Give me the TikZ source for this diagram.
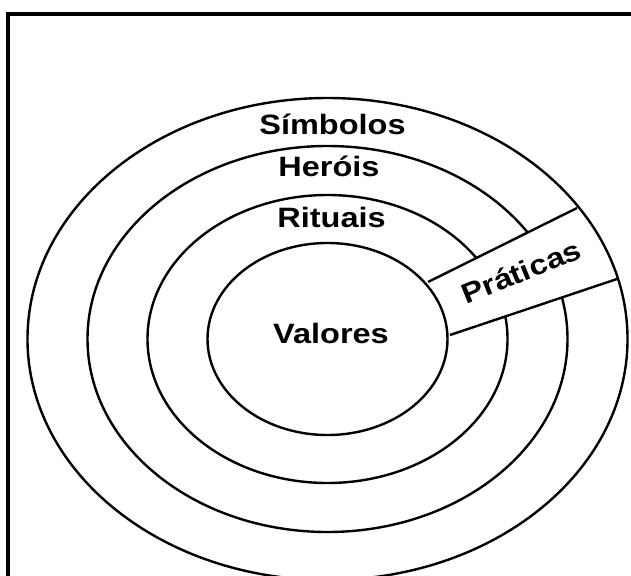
\documentclass[tikz,border=0pt]{standalone}
\usepackage{fontspec}
\newfontfamily\ringfont[FakeStretch=1.16]{Liberation Sans}
\tikzset{
  ring/.style={line width=1.8pt},
  frameline/.style={line width=2.4pt},
  ringlabel/.style={font=\ringfont\bfseries\fontsize{21}{24}\selectfont, inner sep=0pt, anchor=base}
}
\begin{document}
\begin{tikzpicture}[x=0.75pt,y=-0.75pt]
  \useasboundingbox (0,0) rectangle (631,575);
  \clip (0,0) rectangle (631,575);
  \draw[frameline] (8,600) -- (8,14) -- (660,14);
  \coordinate (c) at (327.5,339);
  % rings cut by the band
  \draw[ring] (c) ellipse [x radius=240, y radius=193];
  \draw[ring] (c) ellipse [x radius=180, y radius=144];
  % band
  \coordinate (bandA) at (428,282);
  \coordinate (bandB) at (577,208);
  \coordinate (bandC) at (617,279);
  \coordinate (bandD) at (450,335);
  \fill[white] (bandA) -- (bandB) -- (bandC) -- (bandD) -- cycle;
  \draw[ring] (bandA) -- (bandB);
  \draw[ring] (bandD) -- (bandC);
  \draw[ring] (c) ellipse [x radius=120, y radius=96];
  \draw[ring] (c) ellipse [x radius=300, y radius=241];
  \node[ringlabel] (simbolos) at (332.5,134) {Símbolos};
  \node[ringlabel] (herois) at (329,176) {Heróis};
  \node[ringlabel] (rituais) at (331.5,227) {Rituais};
  \node[ringlabel] (valores) at (331,343) {Valores};
  \node[ringlabel, rotate=22] (praticas) at (525,281) {Práticas};
\end{tikzpicture}
\end{document}
